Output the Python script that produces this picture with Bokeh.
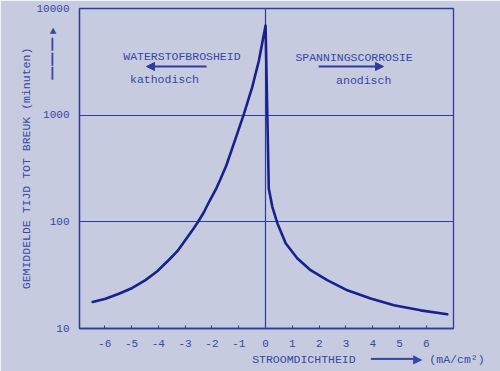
from bokeh.plotting import figure
from bokeh.models import Range1d, FixedTicker, Label, Arrow, NormalHead, LinearAxis
from bokeh.embed import file_html
from bokeh.resources import INLINE

# ---- data ----
x_left = [-6.45, -5.97, -5.47, -4.97, -4.48, -4.04, -3.61, -3.29, -2.99, -2.73, -2.51,
          -2.30, -2.10, -1.86, -1.70, -1.46, -1.12, -0.81, -0.50, -0.25, 0.0]
t_left = [17.7, 19.0, 21.2, 24.0, 28.4, 34.4, 43.9, 53.1, 67.6, 83.2, 100.7,
          123.0, 155.0, 200.0, 245.0, 339.0, 603.0, 1023.0, 1820.0, 3236.0, 6918.0]
x_right = [0.12, 0.25, 0.44, 0.75, 1.18, 1.68, 2.30, 3.05, 3.92, 4.79, 5.78, 6.78]
t_right = [205.0, 139.0, 97.0, 63.0, 45.5, 35.2, 28.4, 22.8, 19.1, 16.5, 14.8, 13.6]

x_ticks = [-6, -5, -4, -3, -2, -1, 0, 1, 2, 3, 4, 5, 6]
x_tick_labels = ["-6", "-5", "-4", "-3", "-2", "-1", "0", "1", "2", "3", "4", "5", "6"]
y_ticks = [10, 100, 1000, 10000]
y_tick_labels = ["10", "100", "1000", "10000"]
grid_y = [100, 1000]
grid_x = [0]

y_title = "GEMIDDELDE TIJD TOT BREUK (minuten)"
x_title = "STROOMDICHTHEID"
unit_text = "(mA/cm\u00b2)"
left_title = "WATERSTOFBROSHEID"
left_sub = "kathodisch"
right_title = "SPANNINGSCORROSIE"
right_sub = "anodisch"

BG = "#c6cbdf"
INK = "#2f3c9e"
CURVE = "#18228a"
TXT = "#3846a6"
FONT = "Liberation Mono"
NB = "\u00a0"

p = figure(width=500, height=371, y_axis_type="log",
           x_range=Range1d(-6.94, 7.01), y_range=Range1d(10, 10000),
           output_backend="svg", toolbar_location=None,
           min_border_left=79, min_border_right=47,
           min_border_top=8, min_border_bottom=43)
p.background_fill_color = BG
p.border_fill_color = BG
p.outline_line_color = INK
p.outline_line_width = 1.3

# x axis
xa = p.xaxis[0]
xa.ticker = FixedTicker(ticks=x_ticks)
xa.major_label_overrides = {t: l for t, l in zip(x_ticks, x_tick_labels)}
xa.major_tick_in = 3
xa.major_tick_out = 0
xa.minor_tick_line_color = None
xa.axis_line_color = INK
xa.axis_line_width = 1.3
xa.major_tick_line_color = INK
xa.major_label_text_font = FONT
xa.major_label_text_font_size = "11px"
xa.major_label_text_color = TXT
xa.major_label_standoff = 11

# second row below the x axis: title, arrow and unit, written as tick labels
x_title_pos = 1.43
x_unit_pos = 6.06
xb = LinearAxis(ticker=FixedTicker(ticks=[x_title_pos, x_unit_pos]),
                major_label_overrides={
                    x_title_pos: x_title,
                    x_unit_pos: "\u2501" * 6 + "\u25b6" + NB + unit_text},
                axis_line_color=None, major_tick_line_color=None,
                minor_tick_line_color=None, major_tick_in=0, major_tick_out=0,
                major_label_standoff=3, major_label_text_font=FONT,
                major_label_text_font_size="11.5px", major_label_text_color=TXT)
p.add_layout(xb, "below")

# y axis; the upward arrow is written as one extra multi-line tick label
arrow_pos = 3868
ya = p.yaxis[0]
ya.ticker = FixedTicker(ticks=y_ticks + [arrow_pos])
overrides = {t: l for t, l in zip(y_ticks, y_tick_labels)}
overrides[arrow_pos] = "\n".join(["\u25b2" + NB * 2] + ["\u2503" + NB * 2] * 3)
ya.major_label_overrides = overrides
ya.major_tick_in = 0
ya.major_tick_out = 0
ya.minor_tick_line_color = None
ya.axis_line_color = INK
ya.axis_line_width = 1.3
ya.major_label_text_font = FONT
ya.major_label_text_font_size = "11px"
ya.major_label_text_color = TXT
ya.major_label_standoff = 10
ya.axis_label = y_title
ya.axis_label_text_font = FONT
ya.axis_label_text_font_style = "normal"
ya.axis_label_text_font_size = "11.5px"
ya.axis_label_text_color = TXT
ya.axis_label_standoff = 0

# grid
p.xgrid.ticker = FixedTicker(ticks=grid_x)
p.ygrid.ticker = FixedTicker(ticks=grid_y)
for g in (p.xgrid[0], p.ygrid[0]):
    g.grid_line_color = INK
    g.grid_line_width = 1.2
    g.grid_line_alpha = 1.0

# curve
p.line(x_left + x_right, t_left + t_right, line_color=CURVE, line_width=2.6,
       line_join="round", line_cap="round")

def lab(x, y, text, size="11.5px"):
    p.add_layout(Label(x=x, y=y, text=text, text_font=FONT, text_font_size=size,
                       text_color=TXT, text_align="center", text_baseline="middle"))

lab(-3.12, 3548, left_title)
lab(-3.77, 2159, left_sub)
lab(3.30, 3472, right_title)
lab(3.66, 2113, right_sub)

def arr(x0, y0, x1, y1, w, size=8):
    p.add_layout(Arrow(x_start=x0, y_start=y0, x_end=x1, y_end=y1,
                       line_color=INK, line_width=w,
                       end=NormalHead(size=size, fill_color=INK, line_color=INK, line_width=1)))

arr(-2.20, 2860, -4.44, 2860, 2)
arr(1.98, 2860, 4.40, 2860, 2)

open("out.html", "w").write(file_html(p, INLINE))
